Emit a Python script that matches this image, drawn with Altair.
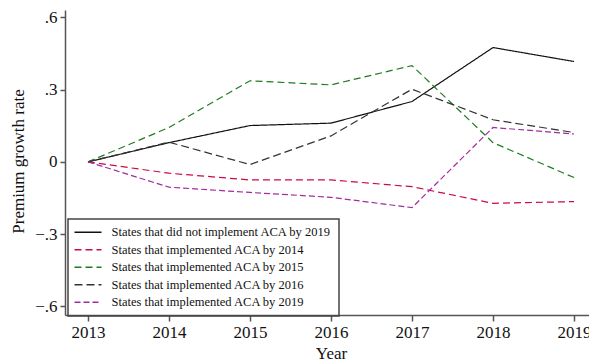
import altair as alt
import pandas as pd

years = [2013, 2014, 2015, 2016, 2017, 2018, 2019]

groups = [
    "States that did not implement ACA by 2019",
    "States that implemented ACA by 2014",
    "States that implemented ACA by 2015",
    "States that implemented ACA by 2016",
    "States that implemented ACA by 2019",
]

never_2019 = [0.0, 0.080, 0.151, 0.161, 0.251, 0.475, 0.417]
by_2014 = [0.0, -0.047, -0.075, -0.075, -0.103, -0.172, -0.165]
by_2015 = [0.0, 0.143, 0.337, 0.320, 0.400, 0.080, -0.065]
by_2016 = [0.0, 0.082, -0.011, 0.108, 0.302, 0.175, 0.122]
by_2019 = [0.0, -0.105, -0.127, -0.147, -0.190, 0.143, 0.116]

colors = ["#111111", "#cc0a45", "#1f7a1f", "#333333", "#a02ca0"]
dashes = [[1, 0], [7, 4], [7, 4], [8, 4], [6, 3]]

series = [never_2019, by_2014, by_2015, by_2016, by_2019]
rows = []
for g, vals in zip(groups, series):
    for y, v in zip(years, vals):
        rows.append({"Year": y, "rate": v, "group": g})
df = pd.DataFrame(rows)

serif = "Liberation Serif"

chart = (
    alt.Chart(df)
    .mark_line(strokeWidth=1.2)
    .encode(
        x=alt.X(
            "Year:Q",
            scale=alt.Scale(domain=[2012.716, 2019.185], nice=False, zero=False),
            axis=alt.Axis(
                values=years,
                format="d",
                title="Year",
                titleX=266,
                titleY=43,
                titleAlign="center",
                titleBaseline="alphabetic",
                titleAnchor="start",
            ),
        ),
        y=alt.Y(
            "rate:Q",
            scale=alt.Scale(domain=[-0.636, 0.631], nice=False, zero=False),
            axis=alt.Axis(
                values=[-0.6, -0.3, 0, 0.3, 0.6],
                labelExpr="datum.value == 0 ? '0' : replace(format(datum.value, '.1f'), '0.', '.')",
                title="Premium growth rate",
                titleAngle=270,
                titleX=-47,
                titleY=151,
                titleAlign="center",
                titleBaseline="middle",
                titleAnchor="start",
            ),
        ),
        color=alt.Color(
            "group:N",
            scale=alt.Scale(domain=groups, range=colors),
            legend=alt.Legend(
                title=None,
                orient="none",
                legendX=3,
                legendY=209,
                # short horizontal line swatch, wider than its row height
                symbolType="M-1.5,0H4.5",
                symbolSize=81,
                symbolStrokeWidth=1.3,
                labelFont=serif,
                labelFontSize=12.5,
                labelColor="#111",
                labelLimit=400,
                labelExpr="datum.label + '\u2003\u2002'",
                rowPadding=4.5,
                labelOffset=24,
                padding=7,
                strokeColor="#444",
            ),
        ),
        strokeDash=alt.StrokeDash(
            "group:N",
            scale=alt.Scale(domain=groups, range=dashes),
            legend=None,
        ),
        detail="group:N",
    )
    .properties(
        width=524,
        height=305,
        autosize=alt.AutoSizeParams(type="none"),
        padding={"left": 65, "top": 10, "right": 0, "bottom": 47},
    )
    .configure_view(stroke=None)
    .configure_legend(strokeWidth=1.5)
    .configure_axis(
        grid=False,
        domainColor="#555",
        domainWidth=1.5,
        tickColor="#555",
        tickWidth=1.5,
        labelFont=serif,
        labelFontSize=17,
        labelColor="#111",
        titleFont=serif,
        titleFontSize=17,
        titleFontWeight="normal",
        titleColor="#111",
    )
    .configure_axisX(tickSize=6, labelPadding=3)
    .configure_axisY(tickSize=5, labelPadding=3)
)

chart.save("out.html", embed_options={"renderer": "svg", "actions": False})
